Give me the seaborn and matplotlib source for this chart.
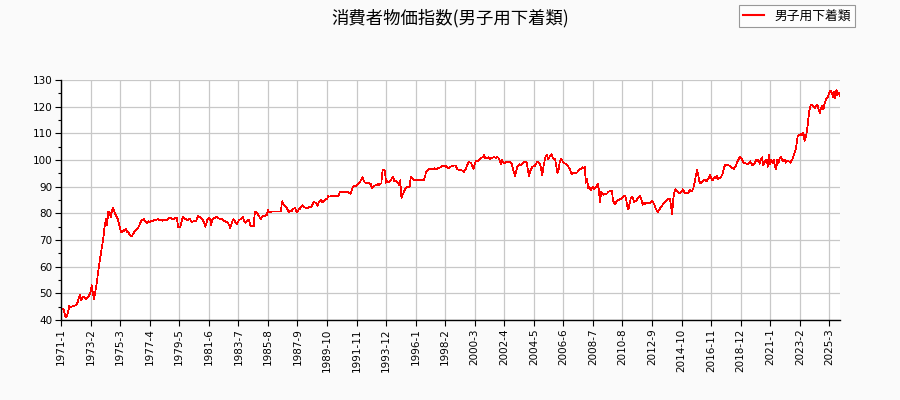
import matplotlib
matplotlib.use("Agg")
import matplotlib.pyplot as plt
import seaborn as sns
import numpy as np
import pandas as pd
from matplotlib.ticker import MultipleLocator, FixedLocator

TITLE = "消費者物価指数(男子用下着類)"
SERIES = "男子用下着類"
START_YEAR = 1971

v1971_1980 = [
    44.1, 44.0, 44.2, 42.5, 41.0, 41.5, 43.0, 45.2, 45.0, 45.0, 45.2, 45.3,
    45.5, 45.8, 46.5, 48.0, 49.5, 47.3, 48.3, 48.8, 48.6, 47.8, 48.2, 48.6,
    49.4, 50.5, 53.0, 49.8, 47.8, 50.6, 53.0, 56.5, 60.0, 63.0, 65.5, 68.5,
    71.5, 75.5, 77.8, 75.6, 80.7, 80.4, 78.6, 80.8, 82.2, 81.0, 79.7, 78.8,
    77.8, 76.0, 74.2, 73.0, 73.2, 73.8, 73.5, 74.3, 73.0, 72.8, 72.0, 71.5,
    71.6, 72.2, 73.0, 73.8, 74.0, 74.3, 75.2, 76.3, 77.2, 77.6, 77.8, 77.2,
    76.5, 76.3, 77.0, 76.6, 77.2, 77.0, 77.3, 77.5, 77.3, 77.6, 77.8, 77.4,
    77.5, 77.7, 77.2, 77.6, 77.3, 77.4, 77.5, 78.0, 78.4, 78.2, 77.8, 78.0,
    78.0, 78.3, 78.5, 75.0, 74.8, 75.0, 76.8, 78.6, 78.2, 77.8, 78.0, 77.4,
    77.8, 78.0, 77.0, 76.8, 77.0, 77.0, 76.9, 78.0, 79.0, 78.8, 78.6, 78.0,
]
v1981_1990 = [
    77.5, 76.5, 75.0, 76.2, 77.8, 78.4, 78.0, 75.6, 77.5, 78.2, 78.3, 78.5,
    78.5, 78.2, 78.0, 77.8, 77.8, 77.5, 77.2, 77.0, 76.8, 76.4, 75.8, 74.6,
    75.8, 77.0, 77.8, 77.2, 76.3, 76.0, 77.0, 77.6, 77.8, 78.0, 78.6, 77.0,
    76.4, 76.8, 77.7, 77.5, 75.6, 75.2, 75.2, 75.2, 80.7, 80.4, 80.0, 79.3,
    78.6, 77.8, 78.5, 79.0, 79.0, 79.2, 79.3, 81.3, 80.4, 80.4, 80.7, 80.7,
    80.7, 80.7, 80.7, 80.7, 80.7, 80.7, 80.8, 84.5, 83.3, 82.8, 82.5, 82.0,
    81.0, 80.4, 81.0, 80.8, 81.5, 81.8, 82.0, 80.9, 80.5, 81.4, 81.7, 82.3,
    83.0, 82.5, 82.3, 82.0, 82.2, 82.0, 82.6, 82.5, 82.5, 83.6, 84.4, 84.0,
    84.0, 82.8, 84.0, 84.6, 85.2, 84.3, 84.3, 84.8, 85.5, 85.3, 86.5, 86.3,
    86.3, 86.5, 86.3, 86.4, 86.5, 86.3, 86.4, 86.6, 88.1, 88.2, 87.8, 88.0,
]
v1991_2000 = [
    88.1, 87.8, 88.1, 87.9, 87.5, 87.3, 88.8, 89.8, 90.2, 90.0, 90.5, 91.0,
    91.3, 91.8, 92.6, 93.5, 92.3, 91.6, 91.5, 91.4, 91.3, 91.2, 91.0, 89.5,
    90.0, 90.3, 90.5, 90.6, 91.0, 90.7, 91.0, 91.3, 96.0, 96.3, 96.0, 91.5,
    92.2, 91.7, 91.8, 92.5, 93.2, 93.7, 92.0, 92.4, 92.0, 91.3, 90.7, 92.4,
    85.6, 86.9, 88.0, 88.9, 89.6, 90.0, 89.8, 90.3, 93.8, 93.2, 92.6, 92.3,
    92.4, 92.4, 92.5, 92.3, 92.5, 92.4, 92.4, 92.6, 94.0, 95.6, 96.2, 96.3,
    96.8, 96.5, 96.4, 96.6, 96.9, 96.5, 96.6, 96.9, 97.1, 97.3, 97.6, 97.9,
    97.6, 97.5, 97.7, 97.2, 97.0, 97.4, 97.6, 97.9, 97.8, 98.0, 97.8, 96.7,
    96.4, 96.2, 96.2, 96.1, 96.0, 95.6, 96.3, 97.2, 98.5, 99.2, 99.1, 98.7,
    97.4, 96.6, 98.5, 99.5, 99.6, 99.8, 100.2, 100.6, 100.9, 101.2, 101.8, 100.6,
]
v2001_2010 = [
    100.7, 100.9, 101.0, 100.3, 100.7, 100.9, 101.0, 101.0, 100.6, 101.2, 100.8, 100.0,
    98.5, 100.2, 99.2, 98.9, 99.0, 99.3, 99.0, 99.2, 99.3, 98.8, 97.5, 95.6,
    94.0, 95.5, 97.6, 98.0, 98.4, 98.1, 98.6, 98.9, 99.3, 99.2, 99.0, 96.0,
    94.0, 96.0, 96.8, 97.6, 97.6, 97.9, 98.6, 99.4, 99.2, 98.6, 97.0, 94.2,
    97.0, 99.5, 101.2, 101.9, 100.4, 101.0, 101.5, 102.2, 101.0, 100.5, 100.3, 97.5,
    95.0, 96.5, 99.5, 100.3, 99.8, 99.2, 98.8, 98.5, 98.0, 97.6, 96.9, 96.0,
    94.6, 95.2, 95.0, 95.3, 95.1, 95.5, 96.3, 96.5, 96.8, 97.3, 97.0, 97.4,
    91.5, 92.8, 89.4, 89.9, 88.7, 89.5, 89.8, 89.0, 89.7, 90.2, 91.2, 88.8,
    84.2, 88.0, 87.5, 87.0, 87.5, 87.3, 87.4, 88.0, 88.3, 88.6, 88.5, 84.8,
    83.8, 83.4, 84.6, 85.0, 85.1, 85.5, 85.3, 85.9, 86.3, 86.6, 85.8, 82.6,
]
v2011_2020 = [
    81.5, 83.5, 85.6, 86.2, 85.5, 84.2, 84.6, 85.0, 85.8, 86.3, 86.6, 85.0,
    83.2, 84.0, 83.6, 83.9, 83.7, 84.0, 83.7, 84.2, 84.8, 84.0, 83.2, 82.0,
    81.0, 80.5, 81.2, 82.0, 82.7, 83.2, 84.0, 84.3, 84.8, 85.3, 85.6, 85.5,
    83.0, 79.7, 85.5, 88.2, 89.0, 88.4, 87.9, 87.5, 87.9, 88.2, 89.0, 88.2,
    87.6, 87.8, 87.5, 88.0, 88.7, 88.2, 88.6, 89.5, 91.5, 94.0, 96.2, 94.6,
    92.0, 91.3, 91.8, 92.2, 92.5, 92.4, 91.9, 92.7, 93.2, 94.6, 93.2, 92.4,
    92.9, 93.7, 93.2, 93.9, 92.8, 93.2, 93.3, 94.2, 95.3, 97.2, 98.1, 98.2,
    98.1, 98.0, 97.8, 97.4, 97.0, 96.6, 97.2, 98.0, 99.2, 100.0, 101.2, 101.0,
    100.4, 99.3, 98.9, 98.7, 98.6, 98.4, 99.0, 99.5, 98.8, 98.0, 98.5, 98.8,
    100.2, 99.4, 100.2, 98.6, 100.0, 101.0, 98.1, 98.8, 99.8, 100.2, 97.5, 101.9,
]
v2021_2025 = [
    98.5, 100.2, 98.8, 100.2, 97.5, 96.5, 100.0, 98.8, 100.6, 101.2, 100.2, 99.4,
    100.2, 99.0, 99.8, 99.6, 99.4, 99.0, 99.8, 100.5, 101.9, 103.1, 105.0, 108.5,
    109.5, 109.2, 109.8, 109.3, 110.2, 107.0, 108.5, 110.6, 114.4, 118.5, 120.2, 120.8,
    120.3, 120.0, 119.5, 120.5, 120.6, 118.9, 117.6, 119.6, 120.2, 119.0, 121.2, 122.6,
    123.2, 124.0, 125.2, 126.0, 125.3, 123.7, 125.6, 123.1, 126.2, 124.4, 125.3, 124.0,
]

tick_labels = [
    "1971-1", "1973-2", "1975-3", "1977-4", "1979-5", "1981-6", "1983-7",
    "1985-8", "1987-9", "1989-10", "1991-11", "1993-12", "1996-1", "1998-2",
    "2000-3", "2002-4", "2004-5", "2006-6", "2008-7", "2010-8", "2012-9",
    "2014-10", "2016-11", "2018-12", "2021-1", "2023-2", "2025-3",
]

values = v1971_1980 + v1981_1990 + v1991_2000 + v2001_2010 + v2011_2020 + v2021_2025
df = pd.DataFrame({"month": np.arange(len(values)), "value": values})

JP = ["Noto Sans CJK JP", "DejaVu Sans"]
plt.rcParams["font.family"] = ["DejaVu Sans"]

fig = plt.figure(figsize=(9, 4), dpi=100, facecolor="#fafafa")
ax = fig.add_axes([61 / 900, 1 - 320 / 400, (840 - 61) / 900, 240 / 400])
ax.set_facecolor("white")

sns.lineplot(data=df, x="month", y="value", color="red", linewidth=0.5,
             ax=ax, label=SERIES, legend=False, antialiased=False)

ax.set_xlim(0, len(values) - 1)
ax.set_ylim(40, 130)
ax.yaxis.set_major_locator(MultipleLocator(10))
ax.yaxis.set_minor_locator(MultipleLocator(5))
ax.xaxis.set_major_locator(FixedLocator(np.arange(len(tick_labels)) * 25))
ax.set_xticklabels(tick_labels, rotation=90)
ax.grid(True, which="major", color="#c8c8c8", linewidth=0.9)
ax.set_axisbelow(True)
for side in ("top", "right"):
    ax.spines[side].set_visible(False)
for side in ("left", "bottom"):
    ax.spines[side].set_color("black")
    ax.spines[side].set_linewidth(1.0)
ax.tick_params(axis="both", which="major", length=4, width=0.8, labelsize=7.5,
               colors="black", pad=2)
ax.tick_params(axis="y", which="minor", length=2, width=0.8)
ax.set_xlabel("")
ax.set_ylabel("")

fig.text(0.5, 1 - 18 / 400, TITLE, ha="center", va="center", fontsize=12.5,
         family=JP)

handles, labels = ax.get_legend_handles_labels()
leg = fig.legend(handles, labels, loc="upper right", borderaxespad=0,
                 bbox_to_anchor=(855 / 900, 1 - 5 / 400), prop={"family": JP, "size": 9.2},
                 frameon=True, fancybox=False, edgecolor="#808080",
                 handlelength=1.6, borderpad=0.35, handletextpad=0.8)
leg.get_frame().set_linewidth(0.8)
for line in leg.get_lines():
    line.set_linewidth(1.5)
    line.set_antialiased(True)

fig.savefig("out.png", dpi=100, facecolor=fig.get_facecolor())
